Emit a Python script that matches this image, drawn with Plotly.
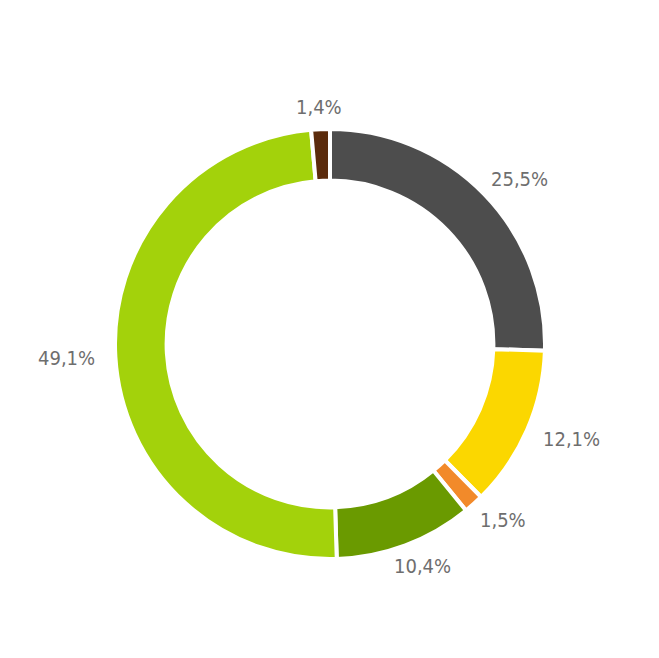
import numpy as np
import plotly.graph_objects as go

labels = ['A', 'B', 'C', 'D', 'E', 'F']
values = [25.5, 12.1, 1.5, 10.4, 49.1, 1.4]
text_labels = ['25,5%', '12,1%', '1,5%', '10,4%', '49,1%', '1,4%']
colors = ['#4d4d4d', '#fbd700', '#f28a2a', '#6a9a00', '#a3d20b', '#5b2b0c']

W, H = 659, 658
# page body has an 8px margin, so place things relative to the figure
cx, cy = 330 - 8, 344 - 8
r_out = 215
r_lab = 237

fig = go.Figure(go.Pie(
    labels=labels,
    values=values,
    sort=False,
    direction='clockwise',
    rotation=0,
    hole=0.76,
    marker=dict(colors=colors, line=dict(color='white', width=4)),
    textinfo='none',
    hoverinfo='label+percent',
    showlegend=False,
    domain=dict(x=[(cx - r_out) / W, (cx + r_out) / W],
                y=[1 - (cy + r_out) / H, 1 - (cy - r_out) / H]),
))

# labels sit outside the ring at each slice's mid angle
total = sum(values)
cum = np.cumsum([0] + values[:-1])
for v, c, t in zip(values, cum, text_labels):
    ang = 2 * np.pi * (c + v / 2) / total
    s, co = np.sin(ang), np.cos(ang)
    est_w = len(t) * 10.6
    fig.add_annotation(
        x=(cx + r_lab * s) / W, y=1 - (cy - r_lab * co) / H,
        xref='paper', yref='paper', text=t, showarrow=False,
        xanchor='center', yanchor='middle', xshift=s * est_w / 2,
        font=dict(family='DejaVu Sans Condensed, Roboto, sans-serif',
                  size=20, color='#6e6e6e'),
    )

fig.update_layout(
    width=W, height=H,
    margin=dict(l=0, r=0, t=0, b=0),
    paper_bgcolor='white',
    plot_bgcolor='white',
)
fig.write_html('out.html')
